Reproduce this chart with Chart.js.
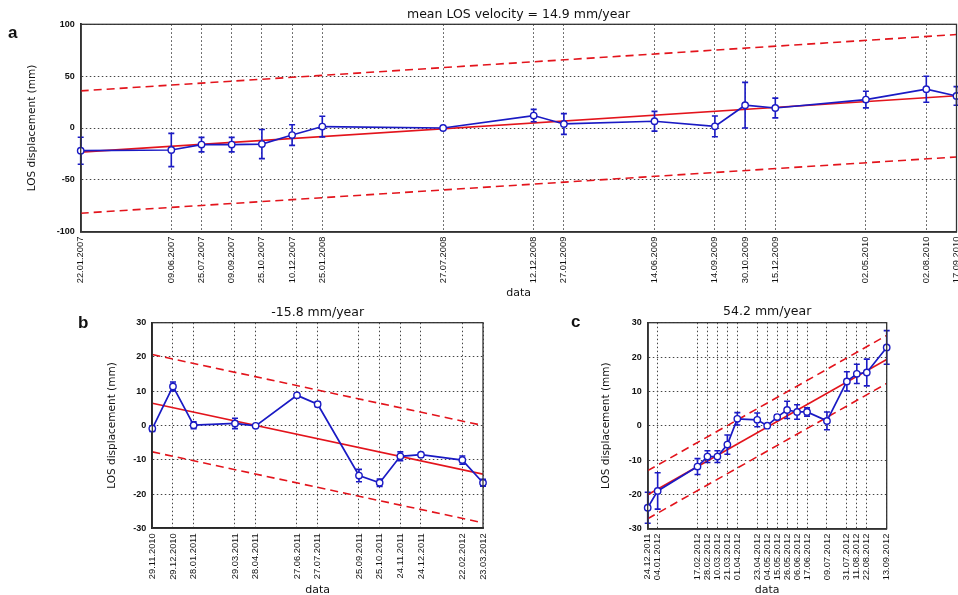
<!DOCTYPE html>
<html>
<head>
<meta charset="utf-8">
<script src="https://cdn.jsdelivr.net/npm/chart.js@4.4.0/dist/chart.umd.min.js"></script>
<style>
  html, body { margin: 0; padding: 0; background: #fff; overflow: hidden; }
  #wrap { position: relative; width: 958px; height: 595px; overflow: hidden; }
  canvas { position: absolute; }
  .letra { position: absolute; font: bold 17px "Liberation Sans", Arial, sans-serif; color: #111; line-height: 17px; }
</style>
</head>
<body>
<div id="wrap">
  <canvas id="painelA" width="980" height="300" style="left:0;top:0"></canvas>
  <canvas id="painelB" width="410" height="301" style="left:90px;top:296px"></canvas>
  <canvas id="painelC" width="398" height="301" style="left:560px;top:296px"></canvas>
  <div class="letra" style="left:8px;top:24px">a</div>
  <div class="letra" style="left:78px;top:314px">b</div>
  <div class="letra" style="left:571px;top:313px">c</div>
</div>
<script>
// Dados do painel a (ALOS, 2007-2010)
const datasA = ["22.01.2007", "09.06.2007", "25.07.2007", "09.09.2007", "25.10.2007", "10.12.2007",
  "25.01.2008", "27.07.2008", "12.12.2008", "27.01.2009", "14.06.2009", "14.09.2009",
  "30.10.2009", "15.12.2009", "02.05.2010", "02.08.2010", "17.09.2010"];
const valoresA = [-21.9, -21.2, -16, -16, -15.5, -6.8, 1.4, 0, 12, 3.9, 6.5, 1.6, 22, 19.3, 27.4, 37.4, 30.9];
const errosA = [13, 16, 7, 7, 14, 10, 10, 0, 6, 10, 9.5, 10, 22, 9.5, 8, 12.5, 9];
const tendenciaA = [-23.2, 31.1];
const faixaA = 59;
const ticksYA = [-100, -50, 0, 50, 100];

// Dados do painel b
const datasB = ["29.11.2010", "29.12.2010", "28.01.2011", "29.03.2011", "28.04.2011", "27.06.2011",
  "27.07.2011", "25.09.2011", "25.10.2011", "24.11.2011", "24.12.2011", "22.02.2012", "23.03.2012"];
const valoresB = [-0.9, 11.4, 0.1, 0.6, -0.1, 8.8, 6.2, -14.6, -16.7, -9, -8.5, -10.1, -16.7];
const errosB = [0.8, 1.3, 1, 1.5, 0.3, 0.5, 0.7, 1.8, 1.1, 1.3, 0.5, 1.2, 1];
const tendenciaB = [6.5, -14.2];
const faixaB = 14.2;

// Dados do painel c
const datasC = ["24.12.2011", "04.01.2012", "17.02.2012", "28.02.2012", "10.03.2012", "21.03.2012",
  "01.04.2012", "23.04.2012", "04.05.2012", "15.05.2012", "26.05.2012", "06.06.2012",
  "17.06.2012", "09.07.2012", "31.07.2012", "11.08.2012", "22.08.2012", "13.09.2012"];
const valoresC = [-23.9, -19, -11.9, -9, -9, -5.5, 2, 1.7, 0, 2.5, 4.6, 4, 4, 1.4, 12.9, 15.1, 15.5, 22.8];
const errosC = [4.5, 5.3, 2.3, 1.7, 1.7, 2.8, 1.8, 2, 0, 0.7, 2.5, 2.1, 1.2, 2.6, 2.8, 2.8, 3.9, 4.9];
const tendenciaC = [-20.1, 19.3];
const faixaC = 7;
const ticksYBC = [-30, -20, -10, 0, 10, 20, 30];

const AZUL = "#1a1ac4";
const VERMELHO = "#e3141c";

// "dd.mm.aaaa" -> dia (numero)
function paraDia(s) {
  const [d, m, a] = s.split(".").map(Number);
  return Date.UTC(a, m - 1, d) / 86400000;
}

// Barras de erro desenhadas com as escalas do grafico
const barrasErro = {
  id: "barrasErro",
  beforeDatasetDraw(chart, args) {
    if (args.index !== 0) return;
    const ds = chart.data.datasets[0];
    const { ctx, scales } = chart;
    ctx.save();
    ctx.strokeStyle = AZUL;
    ctx.lineWidth = 1.6;
    ds.data.forEach((p, i) => {
      const e = ds.erros[i];
      if (!e) return;
      const x = scales.x.getPixelForValue(p.x);
      const y1 = scales.y.getPixelForValue(p.y - e);
      const y2 = scales.y.getPixelForValue(p.y + e);
      ctx.beginPath();
      ctx.moveTo(x, y1); ctx.lineTo(x, y2);
      ctx.moveTo(x - 3, y1); ctx.lineTo(x + 3, y1);
      ctx.moveTo(x - 3, y2); ctx.lineTo(x + 3, y2);
      ctx.stroke();
    });
    ctx.restore();
  },
};

const moldura = {
  id: "moldura",
  afterDraw(chart) {
    const { ctx, chartArea: a } = chart;
    ctx.save();
    ctx.strokeStyle = "#333";
    ctx.lineWidth = 1.3;
    ctx.strokeRect(a.left, a.top, a.right - a.left, a.bottom - a.top);
    ctx.restore();
  },
};

function criarPainel(id, p) {
  const xs = p.datas.map(paraDia);
  const x0 = xs[0];
  const x1 = xs[xs.length - 1];
  const rotulos = {};
  xs.forEach((x, i) => (rotulos[x] = p.datas[i]));
  const linha = (d) => [{ x: x0, y: p.tendencia[0] + d }, { x: x1, y: p.tendencia[1] + d }];

  new Chart(document.getElementById(id), {
    type: "line",
    data: {
      datasets: [
        {
          data: xs.map((x, i) => ({ x, y: p.valores[i] })),
          erros: p.erros,
          borderColor: AZUL,
          borderWidth: 1.7,
          pointRadius: 3.2,
          pointBorderWidth: 1.4,
          pointBorderColor: AZUL,
          pointBackgroundColor: "#fff",
          clip: false,
        },
        { data: linha(0), borderColor: VERMELHO, borderWidth: 1.7, pointRadius: 0 },
        { data: linha(p.faixa), borderColor: VERMELHO, borderWidth: 1.6, borderDash: [8, 5], pointRadius: 0 },
        { data: linha(-p.faixa), borderColor: VERMELHO, borderWidth: 1.6, borderDash: [8, 5], pointRadius: 0 },
      ],
    },
    options: {
      responsive: false,
      animation: false,
      layout: { padding: p.padding },
      plugins: {
        legend: { display: false },
        tooltip: { enabled: false },
        title: {
          display: true,
          text: p.titulo,
          fullSize: false,
          color: "#111",
          font: { family: "DejaVu Sans", size: 12.5, weight: "normal" },
          padding: p.padTitulo,
        },
      },
      scales: {
        x: {
          type: "linear",
          min: x0,
          max: x1,
          afterBuildTicks: (s) => { s.ticks = xs.map((v) => ({ value: v })); },
          afterFit: (s) => { s.height = p.alturaX; s.paddingLeft = 0; s.paddingRight = 0; },
          ticks: {
            autoSkip: false,
            minRotation: 90,
            maxRotation: 90,
            padding: 5,
            color: "#111",
            font: { family: "Liberation Sans", size: 9.3 },
            callback: (v) => rotulos[v] || "",
          },
          grid: { color: "#444", lineWidth: 1, drawTicks: false },
          border: { color: "#222", width: 1.8, dash: [1.5, 2.5] },
          title: { display: true, text: "data", color: "#111", font: { family: "DejaVu Sans", size: 11 }, padding: 0 },
        },
        y: {
          min: p.ticksY[0],
          max: p.ticksY[p.ticksY.length - 1],
          afterBuildTicks: (s) => { s.ticks = p.ticksY.map((v) => ({ value: v })); },
          afterFit: (s) => { s.width = p.larguraY; },
          ticks: { padding: 6, color: "#111", font: { family: "Liberation Sans", size: 9, weight: "bold" } },
          grid: { color: "#444", lineWidth: 1, drawTicks: false },
          border: { color: "#222", width: 1.8, dash: [1.5, 2.5] },
          title: {
            display: true,
            text: "LOS displacement (mm)",
            color: "#111",
            font: { family: "DejaVu Sans", size: 10.5 },
            padding: 0,
          },
        },
      },
    },
    plugins: [barrasErro, moldura],
  });
}

criarPainel("painelA", {
  datas: datasA, valores: valoresA, erros: errosA, tendencia: tendenciaA, faixa: faixaA, ticksY: ticksYA,
  titulo: "mean LOS velocity = 14.9 mm/year",
  padding: { left: 26, right: 23.5, top: 0, bottom: 0 },
  padTitulo: { top: 7.2, bottom: 2.1 },
  larguraY: 54.7, alturaX: 68.3,
});

criarPainel("painelB", {
  datas: datasB, valores: valoresB, erros: errosB, tendencia: tendenciaB, faixa: faixaB, ticksY: ticksYBC,
  titulo: "-15.8 mm/year",
  padding: { left: 16.4, right: 17, top: 0, bottom: 0 },
  padTitulo: { top: 9.2, bottom: 2.5 },
  larguraY: 45.9, alturaX: 68.7,
});

criarPainel("painelC", {
  datas: datasC, valores: valoresC, erros: errosC, tendencia: tendenciaC, faixa: faixaC, ticksY: ticksYBC,
  titulo: "54.2 mm/year",
  padding: { left: 40.4, right: 71.3, top: 0, bottom: 0 },
  padTitulo: { top: 8.2, bottom: 3.5 },
  larguraY: 47.3, alturaX: 68.3,
});
</script>
</body>
</html>
